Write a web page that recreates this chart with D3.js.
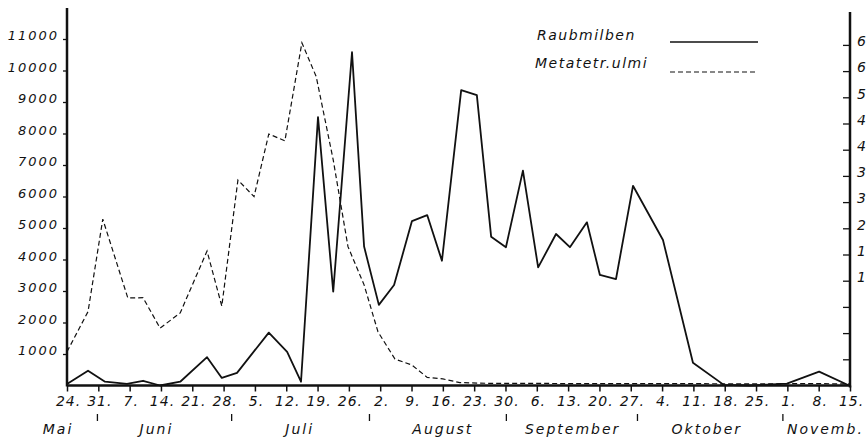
<!DOCTYPE html>
<html>
<head>
<meta charset="utf-8">
<script src="https://cdn.jsdelivr.net/npm/d3@7"></script>
<style>
  body { margin: 0; background: #fff; }
  svg text { font-family: "DejaVu Sans", sans-serif; font-style: italic; fill: #111; }
</style>
</head>
<body>
<div id="plot"></div>
<script>
// days counted from 24. Mai
const weekDays = d3.range(0, 176, 7);
const weekLabels = ["24.", "31.", "7.", "14.", "21.", "28.", "5.", "12.", "19.", "26.", "2.", "9.", "16.", "23.", "30.",
                    "6.", "13.", "20.", "27.", "4.", "11.", "18.", "25.", "1.", "8.", "15."];
const monthNames = ["Mai", "Juni", "Juli", "August", "September", "Oktober", "Novemb."];
const monthCenters = [-2, 20, 52, 84, 113, 143, 169.5];
const monthBreaks = [6.8, 36.8, 67.6, 98.2, 127.5, 160];

const leftTicks = [1000, 2000, 3000, 4000, 5000, 6000, 7000, 8000, 9000, 10000, 11000];
const rightTicks = [1, 2, 3, 4, 5, 6, 7, 8, 9, 10, 11, 12, 13];
const rightTickLabels = ["", "", "", "12", "18", "24", "30", "36", "42", "48", "54", "60", "66"];

// Raubmilben (left axis)
const raubDays = [0, 4.7, 8.5, 13.4, 17, 20.8, 25.3, 31.3, 34.6, 38, 45.1, 49.2, 52.3, 56.1, 59.5, 63.7, 66.4,
                  69.7, 73.1, 77.1, 80.5, 83.8, 88.1, 91.6, 94.8, 98.1, 101.9, 105.3, 109.3, 112.4, 116.2,
                  119.1, 122.7, 126.5, 133.2, 139.9, 146.8, 152.7, 160.9, 168.1, 174.8];
const raubValues = [50, 470, 120, 50, 150, 0, 120, 900, 240, 400, 1680, 1070, 120, 8520, 2980, 10580, 4410,
                    2560, 3190, 5220, 5410, 3960, 9380, 9220, 4720, 4390, 6820, 3750, 4810, 4390, 5180,
                    3510, 3380, 6340, 4620, 720, 20, 0, 60, 440, 0];

// Metatetr. ulmi (right axis)
const ulmiDays = [0, 4.7, 8.0, 13.6, 17, 20.8, 25.3, 31.3, 34.6, 38.2, 41.8, 45.1, 48.7, 52.5, 55.7, 59.5,
                  62.8, 66.4, 69.5, 73.3, 77.1, 80.5, 84.0, 87.8, 95, 105, 116, 126, 140, 153, 161, 168, 174.8];
const ulmiValues = [1.29, 2.82, 6.35, 3.34, 3.35, 2.19, 2.77, 5.13, 3.03, 7.84, 7.21, 9.6, 9.34, 13.08, 11.79, 8.61,
                    5.3, 3.84, 2.05, 1.01, 0.78, 0.31, 0.25, 0.11, 0.08, 0.08, 0.07, 0.07, 0.07, 0.06, 0.07, 0.07, 0.06];

const w = 867, h = 440;
const left = 67, right = 850, base = 385.5;

const svg = d3.select("#plot").append("svg")
  .attr("width", w)
  .attr("height", h);

const xScale = d3.scaleLinear().domain([0, 175]).range([left, right]);
const yLeft = d3.scaleLinear().domain([0, 11000]).range([base, base - 11 * 31.5]);
const yRight = d3.scaleLinear().domain([0, 13]).range([base, base - 13 * 26.2]);

// x axis
const xAxis = d3.axisBottom(xScale)
  .tickValues(weekDays)
  .tickSize(6)
  .tickSizeOuter(0)
  .tickPadding(5)
  .tickFormat((d, i) => weekLabels[i]);
const gx = svg.append("g")
  .attr("transform", "translate(0," + base + ")")
  .call(xAxis);
gx.select(".domain").remove();
gx.selectAll(".tick line").attr("stroke", "#111").attr("stroke-width", 1.5);
gx.selectAll(".tick text")
  .attr("font-size", 14)
  .attr("letter-spacing", 1)
  .attr("dx", 1)
  .attr("fill", "#111");

// left axis
const yAxisL = d3.axisLeft(yLeft)
  .tickValues(leftTicks)
  .tickSize(4)
  .tickSizeOuter(0)
  .tickPadding(4)
  .tickFormat(d => d);
const gl = svg.append("g")
  .attr("transform", "translate(" + left + ",0)")
  .call(yAxisL);
gl.select(".domain").remove();
gl.selectAll(".tick line").attr("stroke", "#111").attr("stroke-width", 1.3);
gl.selectAll(".tick text")
  .attr("font-size", 13)
  .attr("letter-spacing", 2)
  .attr("dy", "0.05em")
  .attr("fill", "#111");

// right axis
const yAxisR = d3.axisRight(yRight)
  .tickValues(rightTicks)
  .tickSize(-7)
  .tickSizeOuter(0)
  .tickPadding(7)
  .tickFormat((d, i) => rightTickLabels[i]);
const gr = svg.append("g")
  .attr("transform", "translate(" + right + ",0)")
  .call(yAxisR);
gr.select(".domain").remove();
gr.selectAll(".tick line").attr("stroke", "#111").attr("stroke-width", 1.3);
gr.selectAll(".tick text")
  .attr("font-size", 14)
  .attr("letter-spacing", 2)
  .attr("dy", "0.05em")
  .attr("fill", "#111");

// axis lines
svg.append("line").attr("x1", left).attr("x2", left).attr("y1", 8).attr("y2", base + 1)
  .attr("stroke", "#111").attr("stroke-width", 2.5);
svg.append("line").attr("x1", right).attr("x2", right).attr("y1", 12).attr("y2", base + 2)
  .attr("stroke", "#111").attr("stroke-width", 2.5);
svg.append("line").attr("x1", left).attr("x2", right).attr("y1", base).attr("y2", base)
  .attr("stroke", "#111").attr("stroke-width", 2.5);

// month separators and names
svg.selectAll("line.month")
  .data(monthBreaks)
  .enter()
  .append("line")
  .attr("class", "month")
  .attr("x1", d => xScale(d)).attr("x2", d => xScale(d))
  .attr("y1", 414).attr("y2", 421)
  .attr("stroke", "#111").attr("stroke-width", 1.3);
svg.selectAll("text.month")
  .data(monthNames)
  .enter()
  .append("text")
  .attr("class", "month")
  .attr("x", (d, i) => xScale(monthCenters[i]))
  .attr("y", 434)
  .attr("text-anchor", "middle")
  .attr("font-size", 14)
  .attr("letter-spacing", 2)
  .text(d => d);

// lines
const raubLine = d3.line()
  .x((d, i) => xScale(raubDays[i]))
  .y(d => yLeft(d));
const ulmiLine = d3.line()
  .x((d, i) => xScale(ulmiDays[i]))
  .y(d => yRight(d));

svg.append("path")
  .datum(ulmiValues)
  .attr("d", ulmiLine)
  .attr("fill", "none")
  .attr("stroke", "#111")
  .attr("stroke-width", 1.2)
  .attr("stroke-dasharray", "5,3");

svg.append("path")
  .datum(raubValues)
  .attr("d", raubLine)
  .attr("fill", "none")
  .attr("stroke", "#111")
  .attr("stroke-width", 1.8)
  .attr("stroke-linejoin", "round");

// legend
const legend = svg.append("g").attr("id", "legend");
legend.append("text")
  .attr("x", 537).attr("y", 40)
  .attr("font-size", 14)
  .attr("letter-spacing", 1.5)
  .text("Raubmilben");
legend.append("line")
  .attr("x1", 670).attr("x2", 758).attr("y1", 42).attr("y2", 42)
  .attr("stroke", "#111").attr("stroke-width", 1.6);
legend.append("text")
  .attr("x", 535).attr("y", 68)
  .attr("font-size", 14)
  .attr("letter-spacing", 1.5)
  .text("Metatetr.ulmi");
legend.append("line")
  .attr("x1", 670).attr("x2", 758).attr("y1", 72).attr("y2", 72)
  .attr("stroke", "#111").attr("stroke-width", 1.2)
  .attr("stroke-dasharray", "5,3");
</script>
</body>
</html>
